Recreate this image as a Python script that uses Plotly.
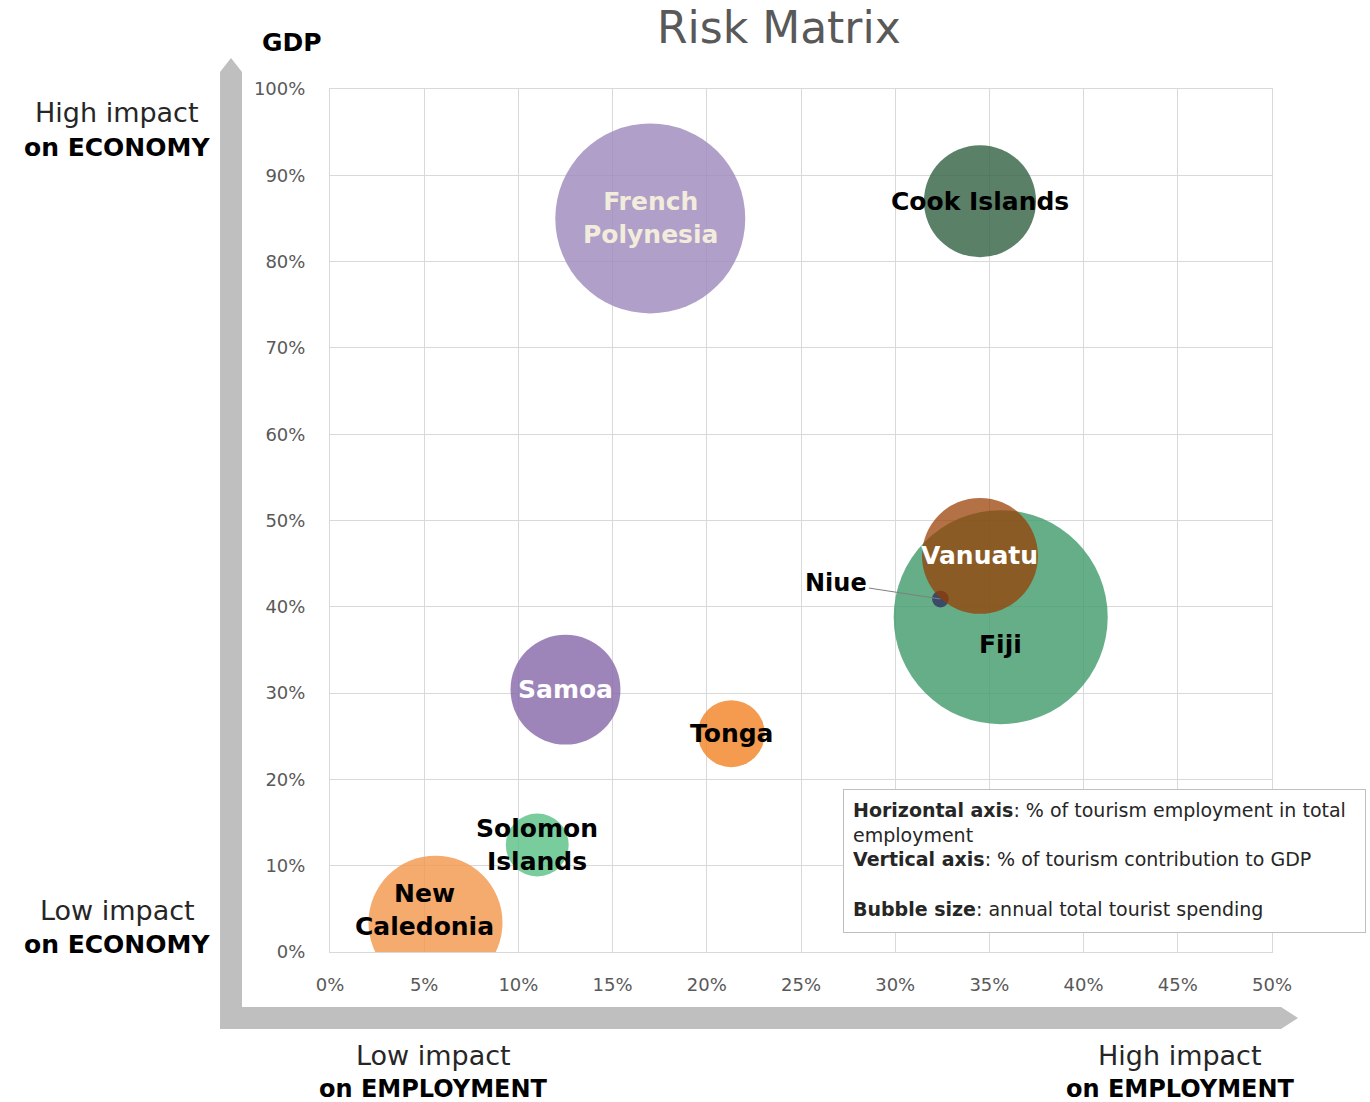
import plotly.graph_objects as go

# ---------------- data ----------------
countries = ["French Polynesia", "Cook Islands", "New Caledonia", "Solomon Islands",
             "Samoa", "Tonga", "Fiji", "Niue", "Vanuatu"]
employment_share = [0.170, 0.345, 0.056, 0.110, 0.125, 0.213, 0.356, 0.324, 0.345]
gdp_share = [0.850, 0.870, 0.034, 0.124, 0.304, 0.253, 0.388, 0.409, 0.459]
tourist_spending = [902, 314, 449, 99, 302, 112, 1145, 7, 336]
label_text = ["French<br>Polynesia", "Cook Islands", "New<br>Caledonia", "Solomon<br>Islands",
              "Samoa", "Tonga", "Fiji", "Niue", "Vanuatu"]
x_tick_values = [0, 0.05, 0.10, 0.15, 0.20, 0.25, 0.30, 0.35, 0.40, 0.45, 0.50]
y_tick_values = [0, 0.1, 0.2, 0.3, 0.4, 0.5, 0.6, 0.7, 0.8, 0.9, 1.0]

# ---------------- styles ----------------
bubble_colors = ["rgba(156,135,186,0.8)", "rgba(49,96,66,0.8)", "rgba(244,150,74,0.8)",
                 "rgba(87,193,131,0.8)", "rgba(132,102,167,0.8)", "rgba(243,130,36,0.8)",
                 "rgba(64,154,106,0.8)", "rgba(49,49,96,0.8)", "rgba(153,59,0,0.725)"]
label_colors = ["#f2ecdc", "#000000", "#000000", "#000000", "#ffffff", "#000000",
                "#000000", "#000000", "#ffffff"]
label_xshift = [0, 0, -11, 0, 0, 0, 0, 0, 0]
label_yshift = [0, 0, 13, 0, 0, 0, -27, 0, 0]

FONT = "DejaVu Sans"
W, H = 1370, 1102
ML, MR, MT, MB = 330, 98, 89, 150
PW, PH = W - ML - MR, H - MT - MB


def px(x):
    return (x - ML) / PW


def py(y):
    return (H - MB - y) / PH


fig = go.Figure()
fig.add_trace(go.Scatter(
    x=employment_share, y=gdp_share, mode="markers",
    text=countries, hoverinfo="text",
    marker=dict(size=tourist_spending, sizemode="area", sizeref=0.05, opacity=1,
                color=bubble_colors, line=dict(width=0)),
    cliponaxis=True,
))

annotations = []
for i, name in enumerate(countries):
    if name == "Niue":
        annotations.append(dict(
            x=employment_share[i], y=gdp_share[i], xref="x", yref="y",
            text="<b>" + label_text[i] + "</b>", showarrow=True, arrowhead=0,
            arrowwidth=1, arrowcolor="#7f7f7f", ax=-104, ay=-16, standoff=0,
            font=dict(family=FONT, size=24, color=label_colors[i])))
    else:
        annotations.append(dict(
            x=employment_share[i], y=gdp_share[i], xref="x", yref="y",
            text="<b>" + label_text[i] + "</b>", showarrow=False,
            xanchor="center", yanchor="middle",
            xshift=label_xshift[i], yshift=label_yshift[i],
            font=dict(family=FONT, size=25, color=label_colors[i])))


def side_text(xp, yp, text, size, color):
    return dict(x=px(xp), y=py(yp), xref="paper", yref="paper", text=text,
                xanchor="center", yanchor="middle", showarrow=False,
                font=dict(family=FONT, size=size, color=color))


annotations += [
    side_text(779, 27, "Risk Matrix", 44, "#595959"),
    side_text(292, 42, "<b>GDP</b>", 25, "#000000"),
    side_text(117, 113, "High impact", 27, "#262626"),
    side_text(117, 148, "<b>on ECONOMY</b>", 25, "#000000"),
    side_text(117, 910, "Low impact", 27, "#262626"),
    side_text(117, 944, "<b>on ECONOMY</b>", 25, "#000000"),
    side_text(433, 1055, "Low impact", 27, "#262626"),
    side_text(433, 1089, "<b>on EMPLOYMENT</b>", 24, "#000000"),
    side_text(1180, 1055, "High impact", 27, "#262626"),
    side_text(1180, 1089, "<b>on EMPLOYMENT</b>", 24, "#000000"),
    dict(x=px(843), y=py(789), xref="paper", yref="paper", xanchor="left", yanchor="top",
         text=("<b>Horizontal axis</b>: % of tourism employment in total<br>employment<br>"
               "<b>Vertical axis</b>: % of tourism contribution to GDP<br><br>"
               "<b>Bubble size</b>: annual total tourist spending"),
         showarrow=False, align="left", valign="top", width=503, height=124,
         borderpad=9, bordercolor="#bfbfbf", borderwidth=1, bgcolor="#ffffff",
         font=dict(family=FONT, size=19, color="#262626")),
]

arrow_path = (
    f"M {px(220)},{py(1029)} L {px(220)},{py(72)} L {px(231)},{py(58)} "
    f"L {px(242)},{py(72)} L {px(242)},{py(1007)} L {px(1281)},{py(1007)} "
    f"L {px(1298)},{py(1018)} L {px(1281)},{py(1029)} Z"
)

fig.update_layout(
    width=W, height=H,
    margin=dict(l=ML, r=MR, t=MT, b=MB, pad=0),
    plot_bgcolor="#ffffff", paper_bgcolor="#ffffff",
    showlegend=False,
    annotations=annotations,
    shapes=[dict(type="path", path=arrow_path, xref="paper", yref="paper",
                 fillcolor="#bfbfbf", line=dict(width=0), layer="below")],
    xaxis=dict(range=[0, 0.5], tickvals=x_tick_values, tickformat=".0%",
               showgrid=True, gridcolor="#d9d9d9", gridwidth=1, zeroline=False,
               showline=True, mirror=True, linecolor="#d9d9d9", linewidth=1,
               ticks="outside", ticklen=16, tickcolor="rgba(0,0,0,0)",
               tickfont=dict(family=FONT, size=18, color="#595959")),
    yaxis=dict(range=[0, 1], tickvals=y_tick_values, tickformat=".0%",
               showgrid=True, gridcolor="#d9d9d9", gridwidth=1, zeroline=False,
               showline=True, mirror=True, linecolor="#d9d9d9", linewidth=1,
               ticks="outside", ticklen=20, tickcolor="rgba(0,0,0,0)",
               tickfont=dict(family=FONT, size=18, color="#595959")),
)

fig.write_html("out.html", config={"displayModeBar": False},
               post_script="document.body.style.margin='0';")
